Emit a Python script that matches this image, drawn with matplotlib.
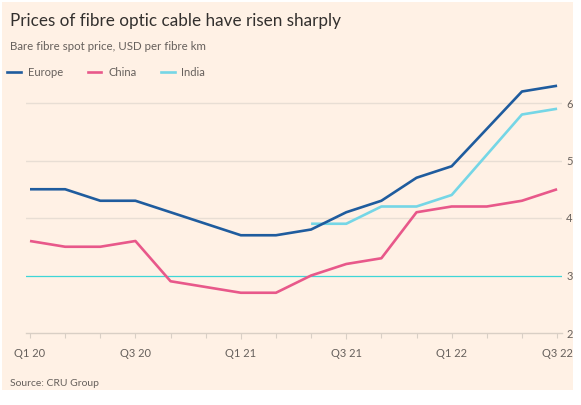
import numpy as np
import matplotlib.pyplot as plt
from matplotlib.patches import Rectangle
from matplotlib.lines import Line2D

plt.rcParams['font.family'] = ['Lato', 'DejaVu Sans']

# Bimonthly points, Q1 2020 to Q3 2022
periods = list(range(16))
tick_labels = ['Q1 20', '', '', 'Q3 20', '', '', 'Q1 21', '', '', 'Q3 21', '', '',
               'Q1 22', '', '', 'Q3 22']
europe = [4.5, 4.5, 4.3, 4.3, 4.1, 3.9, 3.7, 3.7, 3.8, 4.1, 4.3, 4.7, 4.9, 5.55, 6.2, 6.3]
china = [3.6, 3.5, 3.5, 3.6, 2.9, 2.8, 2.7, 2.7, 3.0, 3.2, 3.3, 4.1, 4.2, 4.2, 4.3, 4.5]
india_periods = list(range(8, 16))
india = [3.9, 3.9, 4.2, 4.2, 4.4, 5.1, 5.8, 5.9]

c_europe = '#1f5c9e'
c_china = '#e8588a'
c_india = '#75d6e6'
c_text = '#66605c'
c_grid = '#e8ded4'
c_cyan = '#3fd6d6'
bg = '#fff1e5'

W, H = 581, 405
fig = plt.figure(figsize=(W / 100, H / 100), dpi=100)
fig.patch.set_facecolor('white')
fig.patches.append(Rectangle((2 / W, 1 - 390 / H), 571 / W, 388 / H,
                             transform=fig.transFigure, facecolor=bg,
                             edgecolor='none', zorder=-10))

ax = fig.add_axes([26 / W, 1 - 333 / H, 536 / W, 253 / H])
ax.set_facecolor('none')

ax.plot(periods, europe, color=c_europe, lw=1.9, solid_capstyle='butt', zorder=4)
ax.plot(periods, china, color=c_china, lw=1.9, solid_capstyle='butt', zorder=3)
ax.plot(india_periods, india, color=c_india, lw=1.9, solid_capstyle='butt', zorder=3)

ax.set_xlim(-0.114, 15.14)
ax.set_ylim(2, 6.4)

for v in [4, 5, 6]:
    ax.axhline(v, color=c_grid, lw=1, zorder=1)
ax.axhline(3, color=c_cyan, lw=0.9, zorder=1)

for s in ['top', 'left', 'right']:
    ax.spines[s].set_visible(False)
ax.spines['bottom'].set_color('#d9cfc5')
ax.spines['bottom'].set_linewidth(1)

ax.set_xticks(periods)
ax.set_xticklabels(tick_labels)
ax.tick_params(axis='x', length=3.6, width=0.8, color='#d9cfc5', pad=7,
               labelsize=8, labelcolor=c_text)
for i, t in enumerate(ax.xaxis.get_major_ticks()):
    if i in (6, 9):
        t.tick1line.set_color(c_cyan)
        t.tick1line.set_markersize(4.5)

ax.yaxis.tick_right()
ax.set_yticks([2, 3, 4, 5, 6])
ax.tick_params(axis='y', length=0, pad=3, labelsize=8, labelcolor=c_text)

fig.text(10 / W, 1 - 21 / H, 'Prices of fibre optic cable have risen sharply',
         fontsize=12.3, color='#33302e', va='center', ha='left')
fig.text(10 / W, 1 - 47 / H, 'Bare fibre spot price, USD per fibre km',
         fontsize=8.3, color=c_text, va='center', ha='left')
fig.text(10 / W, 1 - 383 / H, 'Source: CRU Group',
         fontsize=7.5, color=c_text, va='center', ha='left')

handles = [Line2D([], [], color=c, lw=1.9) for c in (c_europe, c_china, c_india)]
fig.legend(handles, ['Europe', 'China', 'India'], loc='center left',
           bbox_to_anchor=(3 / W, 1 - 72 / H), ncol=3, frameon=False,
           fontsize=8, labelcolor=c_text, handlelength=1.25,
           handletextpad=0.6, columnspacing=2.2, borderaxespad=0)

fig.savefig('out.png', dpi=100)
